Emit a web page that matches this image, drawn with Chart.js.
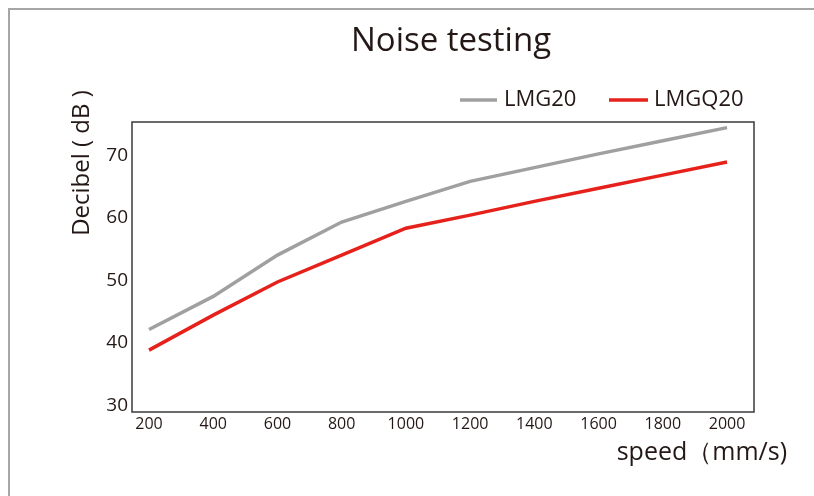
<!DOCTYPE html>
<html>
<head>
<meta charset="utf-8">
<script src="https://cdn.jsdelivr.net/npm/chart.js@4/dist/chart.umd.min.js"></script>
<style>
html,body{margin:0;padding:0;background:#fff;}
#wrap{position:relative;width:814px;height:496px;}
</style>
</head>
<body>
<div id="wrap"><canvas id="c" width="814" height="496"></canvas></div>
<script>
const speeds = [200, 400, 600, 800, 1000, 1200, 1400, 1600, 1800, 2000];
const lmg20 = [42.1, 47.4, 54.0, 59.3, 62.6, 65.8, 68.0, 70.2, 72.3, 74.4];
const lmgq20 = [38.8, 44.4, 49.7, 54.0, 58.3, 60.4, 62.6, 64.7, 66.8, 68.9];
const xTicks = [200, 400, 600, 800, 1000, 1200, 1400, 1600, 1800, 2000];
const yTicks = [30, 40, 50, 60, 70];
const seriesNames = ['LMG20', 'LMGQ20'];
const chartTitle = 'Noise testing';
const yTitle = 'Decibel ( dB )';
const xTitle = 'speed\uFF08mm/s)';

const FONT = "'Open Sans', 'Noto Sans', sans-serif";
const TXT = '#231815';

const toPts = (vals) => speeds.map((s, i) => ({x: s, y: vals[i]}));

const decor = {
  id: 'decor',
  beforeDraw(chart) {
    const ctx = chart.ctx;
    ctx.save();
    ctx.strokeStyle = '#a6a6a6';
    ctx.lineWidth = 2;
    ctx.beginPath();
    ctx.moveTo(9, 496);
    ctx.lineTo(9, 9);
    ctx.lineTo(814, 9);
    ctx.stroke();
    ctx.restore();
  },
  afterDraw(chart) {
    const ctx = chart.ctx;
    const a = chart.chartArea;
    ctx.save();
    ctx.strokeStyle = '#3a3a3a';
    ctx.lineWidth = 1.5;
    ctx.strokeRect(a.left, a.top, a.right - a.left, a.bottom - a.top);
    ctx.fillStyle = TXT;
    ctx.font = "33px " + FONT;
    ctx.textAlign = 'center';
    ctx.textBaseline = 'middle';
    ctx.fillText(chartTitle, 451, 42);
    ctx.font = "22px " + FONT;
    ctx.textAlign = 'left';
    const leg = [[460, 497, 504], [609, 648, 654]];
    chart.data.datasets.forEach((ds, i) => {
      ctx.strokeStyle = ds.borderColor;
      ctx.lineWidth = 3.5;
      ctx.beginPath();
      ctx.moveTo(leg[i][0], 100);
      ctx.lineTo(leg[i][1], 100);
      ctx.stroke();
      ctx.fillStyle = TXT;
      ctx.fillText(ds.label, leg[i][2], 100);
    });
    ctx.save();
    ctx.translate(82, 163);
    ctx.rotate(-Math.PI / 2);
    ctx.font = "24px " + FONT;
    ctx.textAlign = 'center';
    ctx.fillText(yTitle, 0, 0);
    ctx.restore();
    ctx.font = "25px " + FONT;
    ctx.textAlign = 'right';
    ctx.fillText(xTitle, 787, 453);
    ctx.restore();
  }
};

new Chart(document.getElementById('c'), {
  type: 'line',
  data: {
    datasets: [
      {label: seriesNames[0], data: toPts(lmg20), borderColor: '#a0a0a0', borderWidth: 3.5, pointRadius: 0, fill: false, tension: 0},
      {label: seriesNames[1], data: toPts(lmgq20), borderColor: '#e6211b', borderWidth: 3.5, pointRadius: 0, fill: false, tension: 0}
    ]
  },
  options: {
    responsive: false,
    animation: false,
    devicePixelRatio: 1,
    layout: {padding: {left: 0, top: 122, right: 60, bottom: 0}},
    plugins: {legend: {display: false}, title: {display: false}, tooltip: {enabled: false}},
    scales: {
      x: {
        type: 'linear',
        min: 147,
        max: 2084,
        grid: {display: false, drawTicks: false},
        border: {display: false},
        afterBuildTicks: (s) => { s.ticks = xTicks.map(v => ({value: v})); },
        afterFit: (s) => { s.height = 84; },
        ticks: {color: TXT, font: {family: FONT, size: 16}, padding: 3, maxRotation: 0, autoSkip: false,
                callback: (v) => String(v)}
      },
      y: {
        type: 'linear',
        min: 28.9,
        max: 75.3,
        grid: {display: false, drawTicks: false},
        border: {display: false},
        afterBuildTicks: (s) => { s.ticks = yTicks.map(v => ({value: v})); },
        afterFit: (s) => { s.width = 132; },
        ticks: {color: TXT, font: {family: FONT, size: 19}, padding: 4, callback: (v) => String(v)}
      }
    }
  },
  plugins: [decor]
});
</script>
</body>
</html>
